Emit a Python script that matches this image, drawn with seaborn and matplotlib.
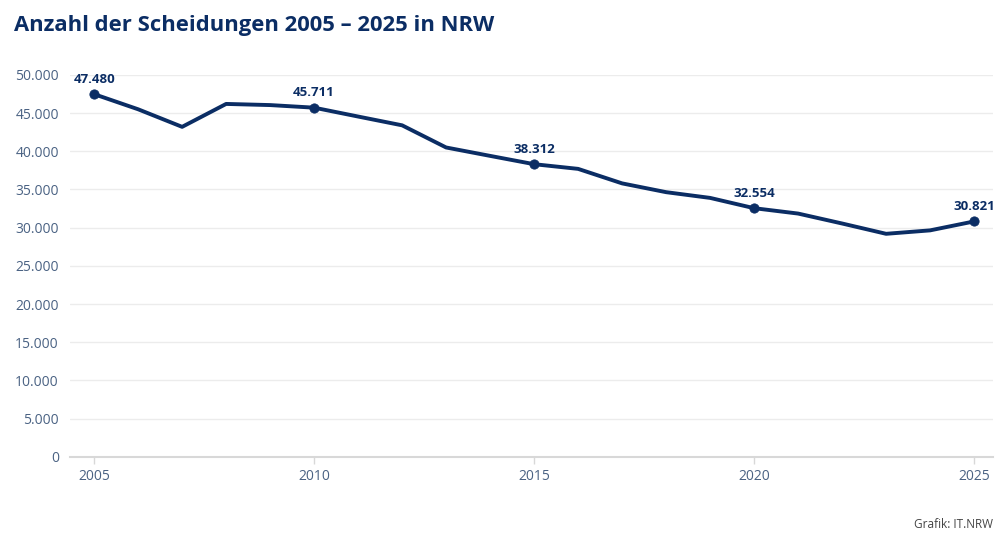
import matplotlib
matplotlib.use("Agg")
import matplotlib.pyplot as plt
import matplotlib.ticker as mticker
import seaborn as sns
import pandas as pd

# --- DATA ---
years = list(range(2005, 2026))
divorces = [47480, 45500, 43200, 46200, 46050, 45711, 44550, 43400, 40500, 39400,
            38312, 37700, 35800, 34650, 33900, 32554, 31850, 30550, 29200, 29650, 30821]
label_years = [2005, 2010, 2015, 2020, 2025]
y_ticks = list(range(0, 50001, 5000))

NAVY = "#0b2d64"
TICK_COL = "#4a6283"

df = pd.DataFrame({"Jahr": years, "Scheidungen": divorces})
marked = df[df["Jahr"].isin(label_years)]

sns.set_theme(style="white")
plt.rcParams['font.family'] = ['Open Sans', 'DejaVu Sans']

fig = plt.figure(figsize=(9.99, 5.35), dpi=100)
ax = fig.add_axes([0.070, 0.146, 0.924, 0.714])

sns.lineplot(data=df, x="Jahr", y="Scheidungen", color=NAVY, linewidth=2.8,
             ax=ax, zorder=3)
sns.scatterplot(data=marked, x="Jahr", y="Scheidungen", color=NAVY, s=45,
                edgecolor=NAVY, ax=ax, zorder=4)

def de_fmt(v, pos=None):
    return f"{int(v):,}".replace(",", ".")

for _, r in marked.iterrows():
    ax.annotate(de_fmt(r["Scheidungen"]), (r["Jahr"], r["Scheidungen"]),
                xytext=(0, 6), textcoords="offset points", ha="center", va="bottom",
                fontsize=9.5, fontweight="bold", color=NAVY, zorder=5)

ax.set_xlim(2004.45, 2025.43)
ax.set_ylim(0, 50000)
ax.set_yticks(y_ticks)
ax.yaxis.set_major_formatter(mticker.FuncFormatter(de_fmt))
ax.set_xticks(label_years)
ax.set_xlabel("")
ax.set_ylabel("")

ax.grid(axis="y", color="#ececec", linewidth=1)
ax.grid(axis="x", visible=False)
for s in ["left", "right", "top"]:
    ax.spines[s].set_visible(False)
ax.spines["bottom"].set_color("#d8d8d8")
ax.spines["bottom"].set_linewidth(1.5)
ax.tick_params(axis="y", length=0, labelsize=10, labelcolor=TICK_COL, pad=8)
ax.tick_params(axis="x", length=5, width=1, color="#d8d8d8", labelsize=10,
               labelcolor=TICK_COL, pad=4, bottom=True)

fig.text(0.014, 0.953, "Anzahl der Scheidungen 2005 – 2025 in NRW", fontsize=15.8,
         fontweight="bold", color=NAVY, ha="left", va="center")
fig.text(0.994, 0.020, "Grafik: IT.NRW", fontsize=8.5, color="#444444",
         ha="right", va="center")

fig.savefig("out.png", dpi=100)
